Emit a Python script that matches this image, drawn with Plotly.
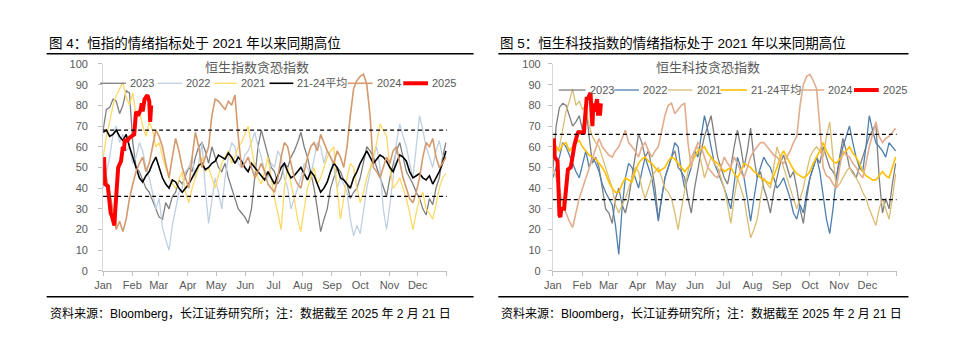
import pandas as pd
import plotly.graph_objects as go

# ---------------- data ----------------
months = ["Jan", "Feb", "Mar", "Apr", "May", "Jun", "Jul", "Aug", "Sep", "Oct", "Nov", "Dec"]
series_names = ["2023", "2022", "2021", "21-24平均", "2024", "2025"]

# half-weekly readings (every 3.5 days from Jan 1), mapped onto a common calendar year
hsi_2023 = [68, 78, 79, 83, 82, 76, 80, 87, 86, 62, 50, 48, 44, 40, 38, 34, 30, 26, 25, 33,
            30, 36, 38, 44, 42, 46, 50, 48, 55, 60, 62, 58, 52, 60, 55, 50, 48, 52, 45, 40,
            35, 30, 28, 26, 23, 30, 45, 60, 68, 62, 55, 50, 48, 42, 45, 52, 50, 55, 58, 62,
            67, 60, 55, 48, 40, 30, 19, 25, 30, 40, 45, 50, 48, 44, 42, 35, 38, 40, 45, 52,
            60, 58, 55, 50, 45, 40, 36, 45, 52, 58, 62, 55, 48, 45, 42, 38, 35, 30, 27, 35,
            32, 40, 45, 55, 62]
hsi_2022 = [40, 48, 55, 66, 70, 62, 66, 58, 60, 52, 55, 62, 58, 50, 45, 38, 30, 35, 21, 15,
            10, 22, 30, 38, 40, 48, 50, 55, 45, 52, 62, 40, 23, 35, 45, 38, 30, 45, 55, 62,
            60, 52, 50, 56, 58, 62, 67, 60, 55, 48, 45, 52, 50, 58, 55, 45, 40, 30, 35, 40,
            45, 52, 50, 46, 55, 62, 60, 52, 58, 55, 50, 40, 45, 42, 38, 25, 17, 22, 18, 30,
            40, 48, 55, 60, 50, 30, 20, 32, 45, 62, 71, 65, 60, 52, 45, 60, 75, 68, 60, 55,
            50, 58, 63, 55, 57]
hsi_2021 = [55, 65, 72, 80, 85, 88, 91, 84, 80, 86, 75, 78, 70, 65, 72, 68, 60, 62, 55, 50,
            45, 42, 40, 44, 48, 38, 33, 40, 45, 50, 55, 48, 50, 45, 40, 46, 52, 55, 58, 52,
            55, 60, 62, 66, 70, 60, 50, 45, 42, 48, 55, 45, 35, 28, 20, 40, 50, 42, 35, 25,
            19, 30, 40, 45, 50, 42, 45, 50, 55, 58, 60, 40, 25, 35, 45, 52, 50, 40, 33, 38,
            45, 50, 55, 62, 71, 68, 65, 50, 40, 42, 45, 40, 35, 28, 20, 28, 35, 38, 30, 28,
            25, 32, 40, 45, 47]
hsi_avg = [67, 68, 65, 66, 68, 65, 63, 66, 60, 55, 50, 45, 43, 46, 48, 52, 55, 50, 45, 42,
           40, 44, 43, 40, 38, 40, 42, 45, 48, 51, 52, 49, 50, 52, 53, 56, 55, 54, 57, 55,
           52, 55, 53, 50, 48, 52, 50, 48, 46, 44, 48, 45, 42, 46, 50, 52, 48, 45, 46, 48,
           50, 47, 44, 48, 46, 42, 38, 40, 43, 48, 52, 50, 45, 44, 42, 40, 45, 48, 52, 55,
           58, 55, 52, 54, 56, 55, 53, 50, 48, 52, 56, 55, 53, 48, 45, 46, 47, 45, 44, 46,
           42, 45, 48, 52, 58]
hsi_2024 = [50, 45, 38, 28, 20, 24, 19, 25, 35, 42, 48, 52, 55, 48, 52, 60, 68, 65, 60, 52,
            45, 55, 64, 58, 50, 45, 40, 55, 67, 60, 50, 55, 60, 75, 83, 82, 80, 78, 82, 80,
            85, 65, 50, 52, 55, 50, 45, 48, 52, 48, 42, 40, 38, 45, 55, 62, 60, 52, 45, 42,
            40, 48, 55, 60, 62, 58, 66, 62, 58, 55, 52, 58, 55, 50, 60, 75, 88, 92, 94, 95,
            90, 75, 50, 48, 45, 50, 55, 52, 58, 60, 52, 45, 40, 35, 33, 38, 45, 55, 62, 60,
            64, 55, 50, 52, 55]

hstech_2023 = [48, 70, 79, 81, 80, 75, 70, 72, 75, 68, 80, 65, 52, 55, 50, 40, 30, 28, 23, 35,
               40, 32, 28, 35, 45, 55, 66, 62, 55, 58, 50, 40, 25, 35, 45, 50, 55, 58, 50, 48,
               45, 35, 28, 40, 50, 58, 65, 70, 75, 65, 55, 50, 45, 42, 50, 60, 68, 60, 50, 58,
               69, 55, 45, 48, 40, 35, 28, 38, 45, 52, 56, 50, 45, 48, 40, 30, 23, 35, 45, 50,
               55, 52, 60, 55, 50, 48, 45, 55, 64, 58, 50, 48, 45, 50, 55, 60, 65, 68, 71, 45,
               28, 35, 30, 42, 52]
hstech_2022 = [45, 50, 55, 62, 60, 56, 52, 48, 45, 52, 58, 50, 55, 52, 48, 42, 38, 35, 32, 22,
               8, 30, 45, 52, 50, 45, 40, 48, 55, 50, 45, 35, 24, 35, 45, 50, 55, 62, 60, 48,
               40, 45, 50, 58, 55, 65, 75, 68, 60, 52, 48, 44, 40, 35, 30, 42, 55, 50, 45, 35,
               24, 35, 45, 50, 55, 52, 50, 45, 40, 42, 45, 40, 35, 28, 25, 32, 28, 38, 45, 50,
               55, 48, 35, 25, 18, 30, 45, 52, 60, 65, 70, 62, 55, 50, 48, 60, 75, 68, 62, 60,
               58, 55, 62, 60, 58]
hstech_2021 = [55, 58, 60, 68, 77, 82, 88, 80, 82, 78, 80, 70, 65, 62, 60, 55, 50, 45, 40, 32,
               28, 32, 35, 40, 45, 50, 48, 40, 35, 40, 45, 48, 50, 45, 40, 38, 35, 28, 20, 30,
               40, 48, 55, 58, 60, 52, 45, 50, 55, 52, 50, 45, 40, 32, 23, 35, 45, 40, 35, 25,
               16, 20, 25, 35, 45, 42, 40, 50, 60, 55, 50, 45, 40, 35, 30, 35, 40, 48, 55, 58,
               60, 58, 55, 65, 72, 55, 40, 42, 45, 48, 50, 47, 45, 42, 38, 35, 30, 26, 22, 30,
               35, 30, 25, 35, 47]
hstech_avg = [63, 60, 58, 61, 62, 58, 60, 62, 63, 60, 58, 56, 55, 54, 52, 50, 47, 43, 40, 38,
              38, 42, 45, 44, 43, 48, 52, 54, 55, 53, 52, 50, 48, 49, 50, 53, 55, 54, 52, 50,
              48, 50, 52, 55, 58, 59, 60, 57, 55, 53, 52, 50, 48, 49, 50, 47, 45, 48, 52, 51,
              50, 48, 47, 45, 44, 43, 42, 46, 50, 55, 58, 55, 52, 49, 47, 46, 45, 46, 48, 52,
              55, 58, 62, 58, 55, 53, 52, 54, 56, 58, 60, 57, 55, 52, 48, 46, 45, 44, 44, 46,
              48, 46, 45, 50, 55]
hstech_2024 = [50, 45, 40, 32, 28, 24, 21, 28, 35, 40, 45, 50, 55, 60, 64, 60, 58, 56, 55, 58,
               60, 64, 68, 62, 60, 58, 55, 60, 62, 58, 55, 58, 60, 68, 75, 80, 81, 76, 78, 80,
               81, 62, 50, 58, 62, 60, 55, 50, 48, 46, 45, 50, 55, 52, 50, 55, 52, 48, 45, 50,
               55, 58, 60, 62, 62, 60, 58, 56, 55, 53, 52, 55, 58, 62, 65, 80, 90, 94, 95, 92,
               88, 70, 50, 46, 45, 42, 40, 50, 58, 56, 55, 52, 50, 47, 45, 52, 60, 66, 72, 65,
               62, 64, 65, 67, 69]

# 2025 trading days up to Feb 21
days_2025 = ["01-02", "01-03", "01-06", "01-07", "01-08", "01-09", "01-10", "01-13", "01-14",
             "01-15", "01-16", "01-17", "01-20", "01-21", "01-22", "01-23", "01-24", "01-27",
             "01-28", "02-03", "02-04", "02-05", "02-06", "02-07", "02-10", "02-11", "02-12",
             "02-13", "02-14", "02-17", "02-18", "02-19", "02-20", "02-21"]
hsi_2025 = [55, 42, 41, 35, 31, 28, 27, 22, 30, 38, 45, 50, 53, 57, 60, 58, 63, 63, 64, 66,
            72, 77, 76, 75, 78, 81, 77, 80, 83, 85, 83, 82, 72, 80]
hstech_2025 = [64, 55, 53, 33, 27, 26, 30, 30, 36, 40, 45, 49, 50, 53, 56, 58, 61, 66, 67, 67,
               73, 80, 84, 83, 86, 77, 70, 81, 77, 83, 75, 81, 75, 81]

hsi_bands = [68, 36]
hstech_bands = [66, 34.5]

# ---------------- styling ----------------
W, H = 959, 352
BASE_YEAR = "2021"
step_x = pd.date_range(f"{BASE_YEAR}-01-01", periods=len(hsi_2023), freq="84h")
x_2025 = pd.to_datetime([f"{BASE_YEAR}-{d}" for d in days_2025])

left_colors = ["#7f7f7f", "#bfd0e2", "#ffd966", "#000000", "#d49a6e", "#ff0000"]
right_colors = ["#7f7f7f", "#4f7faf", "#d9bd74", "#ffc000", "#e2ad8e", "#ff0000"]
widths = [1.3, 1.3, 1.3, 1.6, 1.6, 4]

LAT = "Liberation Sans, Noto Sans CJK SC, sans-serif"
CJK = "Noto Sans CJK SC, sans-serif"
GREY = "#595959"

fig = go.Figure()

panels = [
    dict(ax="", data=[hsi_2023, hsi_2022, hsi_2021, hsi_avg, hsi_2024], red=hsi_2025,
         colors=left_colors, bands=hsi_bands),
    dict(ax="2", data=[hstech_2023, hstech_2022, hstech_2021, hstech_avg, hstech_2024],
         red=hstech_2025, colors=right_colors, bands=hstech_bands),
]

for p in panels:
    for name, vals, col, wd in zip(series_names[:5], p["data"], p["colors"], widths):
        fig.add_trace(go.Scatter(x=step_x, y=vals, mode="lines", name=name,
                                 line=dict(color=col, width=wd),
                                 xaxis="x" + p["ax"], yaxis="y" + p["ax"], showlegend=False))
    fig.add_trace(go.Scatter(x=x_2025, y=p["red"], mode="lines", name="2025",
                             line=dict(color=p["colors"][5], width=widths[5]),
                             xaxis="x" + p["ax"], yaxis="y" + p["ax"], showlegend=False))
    for b in p["bands"]:
        fig.add_shape(type="line", xref=f"x{p['ax']} domain", yref="y" + p["ax"],
                      x0=0, x1=1, y0=b, y1=b,
                      line=dict(color="#000000", width=1.3, dash="4px,3px"))

tickvals = list(pd.date_range(f"{BASE_YEAR}-01-01", periods=13, freq="MS"))
ticktext = months + [""]


def px(x):
    return x / W


def py(y):
    return 1 - y / H


ydom = [py(274.3), py(60)]
xaxis_common = dict(type="date", range=[f"{BASE_YEAR}-01-01", "2022-01-01"],
                    tickvals=tickvals, ticktext=ticktext, ticks="outside", ticklen=4,
                    tickcolor="#bfbfbf", showline=True, linecolor="#bfbfbf", linewidth=1,
                    showgrid=False, zeroline=False,
                    tickfont=dict(family=LAT, size=11, color=GREY))
yaxis_common = dict(range=[0, 100], dtick=10, tick0=0, ticks="outside", ticklen=4,
                    tickcolor="#bfbfbf", showline=True, linecolor="#d9d9d9", linewidth=1,
                    showgrid=False, zeroline=False, domain=ydom,
                    tickfont=dict(family=LAT, size=11, color=GREY))

fig.update_layout(
    width=W, height=H, autosize=False,
    margin=dict(l=0, r=0, t=0, b=0),
    paper_bgcolor="white", plot_bgcolor="white",
    showlegend=False,
    xaxis=dict(domain=[px(95), px(442)], anchor="y", **xaxis_common),
    yaxis=dict(anchor="x", ticklabelstandoff=8, **yaxis_common),
    xaxis2=dict(domain=[px(549), px(896)], anchor="y2", **xaxis_common),
    yaxis2=dict(anchor="x2", ticklabelstandoff=5, **yaxis_common),
)

annotations = []
shapes = []

# figure titles, rules, source
for x0, x1, title in [(38, 469, "图 4：恒指的情绪指标处于 2021 年以来同期高位"),
                      (494, 908, "图 5：恒生科技指数的情绪指标处于 2021 年以来同期高位")]:
    annotations.append(dict(text=title, x=px(x0), y=py(38.5), xref="paper", yref="paper",
                            xanchor="left", yanchor="middle", showarrow=False,
                            font=dict(family=LAT, size=13.5, color="#000000")))
    shapes.append(dict(type="line", xref="paper", yref="paper", x0=px(x0), x1=px(x1),
                       y0=py(49.5), y1=py(49.5), line=dict(color="#000000", width=1.5)))
    shapes.append(dict(type="line", xref="paper", yref="paper", x0=px(x0), x1=px(x1),
                       y0=py(301), y1=py(301), line=dict(color="#000000", width=1.3)))
    annotations.append(dict(text="资料来源：Bloomberg，长江证券研究所；注：数据截至 2025 年 2 月 21 日",
                            x=px(x0 + 1), y=py(318), xref="paper", yref="paper",
                            xanchor="left", yanchor="middle", showarrow=False,
                            font=dict(family=LAT, size=12, color="#000000")))

# inner chart titles
for cx, t in [(250, "恒生指数贪恐指数"), (706, "恒生科技贪恐指数")]:
    annotations.append(dict(text=t, x=px(cx), y=py(63), xref="paper", yref="paper",
                            xanchor="center", yanchor="middle", showarrow=False,
                            font=dict(family=CJK, size=13, color=GREY)))

# legends (line samples + labels)
legend_layout = [
    dict(y=80, colors=left_colors,
         samples=[(92, 118), (150, 175), (207, 230), (263, 287), (342, 367), (398, 423)]),
    dict(y=87, colors=right_colors,
         samples=[(555, 582), (611, 636), (665, 690), (718, 745), (798, 823), (853, 878)]),
]
for lg in legend_layout:
    for (s0, s1), name, col, wd in zip(lg["samples"], series_names, lg["colors"], widths):
        shapes.append(dict(type="line", xref="paper", yref="paper", x0=px(s0), x1=px(s1),
                           y0=py(lg["y"]), y1=py(lg["y"]), line=dict(color=col, width=wd)))
        annotations.append(dict(text=name, x=px(s1 + 2), y=py(lg["y"]), xref="paper",
                                yref="paper", xanchor="left", yanchor="middle",
                                showarrow=False,
                                font=dict(family=LAT, size=11, color=GREY)))

fig.update_layout(annotations=annotations)
for s in shapes:
    fig.add_shape(**s)

fig.write_html("out.html")
